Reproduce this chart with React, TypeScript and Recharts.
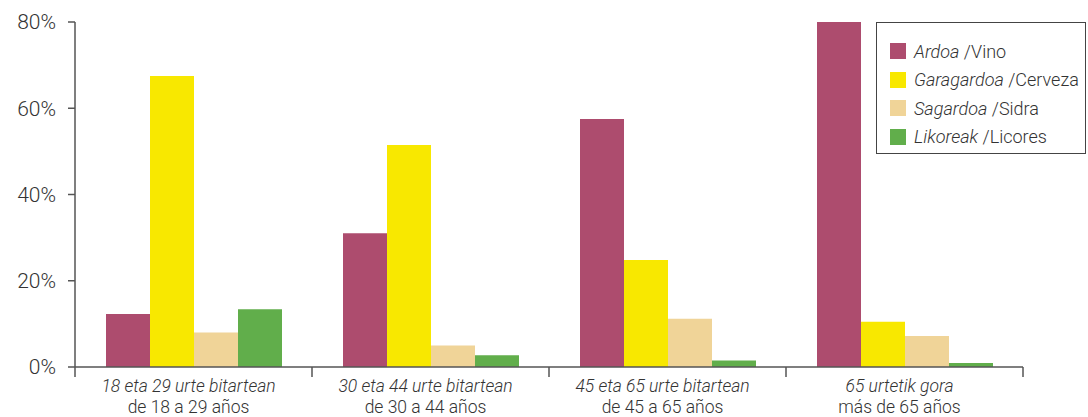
import React from "react";
import { BarChart, Bar, XAxis, YAxis, Legend } from "recharts";

// categories (Basque / Spanish)
const categoriesEu = ["18 eta 29 urte bitartean", "30 eta 44 urte bitartean", "45 eta 65 urte bitartean", "65 urtetik gora"];
const categoriesEs = ["de 18 a 29 años", "de 30 a 44 años", "de 45 a 65 años", "más de 65 años"];

// series values (%)
const vino = [12.3, 31, 57.5, 80];
const cerveza = [67.5, 51.5, 24.8, 10.5];
const sidra = [8, 5, 11.2, 7.2];
const licores = [13.4, 2.7, 1.5, 0.9];

const yTicks = [0, 20, 40, 60, 80];

const seriesEu = ["Ardoa", "Garagardoa", "Sagardoa", "Likoreak"];
const seriesEs = ["Vino", "Cerveza", "Sidra", "Licores"];
const seriesKeys = ["vino", "cerveza", "sidra", "licores"];
const colors = ["#ad4c6e", "#f8e800", "#f0d498", "#61ae4b"];

const data = categoriesEu.map((c, i) => ({
  cat: c,
  vino: vino[i],
  cerveza: cerveza[i],
  sidra: sidra[i],
  licores: licores[i],
}));

const W = 1088;
const H = 417;
const LEFT = 75;
const RIGHT = 65;
const BAND = (W - LEFT - RIGHT) / categoriesEu.length;
const FONT = "Roboto, sans-serif";
const TEXT = "#333";
const AXIS = "#555";

function CatTick(props: any) {
  const { x, y, index } = props;
  const last = index === categoriesEu.length - 1;
  return (
    <g>
      <line x1={x - BAND / 2} x2={x - BAND / 2} y1={y} y2={y + 10} stroke={AXIS} strokeWidth={1.5} />
      {last && <line x1={x + BAND / 2} x2={x + BAND / 2} y1={y} y2={y + 10} stroke={AXIS} strokeWidth={1.5} />}
      <text x={x - 5} y={y + 25} textAnchor="middle" fontFamily={FONT} fontWeight={300} fontStyle="italic" fontSize={17.5} fill={TEXT}>
        {categoriesEu[index]}
      </text>
      <text x={x - 5} y={y + 46} textAnchor="middle" fontFamily={FONT} fontWeight={300} fontSize={17.5} fill={TEXT}>
        {categoriesEs[index]}
      </text>
    </g>
  );
}

function LegendBox() {
  return (
    <div style={{ border: "1px solid #444", height: 132, boxSizing: "border-box", paddingTop: 14, fontFamily: FONT, fontWeight: 300, fontSize: 18, color: TEXT }}>
      {seriesKeys.map((k, i) => (
        <div key={k} style={{ display: "flex", alignItems: "center", height: 28.5, paddingLeft: 13 }}>
          <span style={{ display: "inline-block", width: 16, height: 16, background: colors[i], marginRight: 8 }} />
          <span><i>{seriesEu[i]}</i> /{seriesEs[i]}</span>
        </div>
      ))}
    </div>
  );
}

export default function App() {
  return (
    <div style={{ position: "fixed", left: 0, top: 0, width: W, height: H, background: "#fff" }}>
      <BarChart width={W} height={H} data={data} margin={{ top: 22, right: RIGHT, bottom: 0, left: 0 }} barGap={0} barCategoryGap={31}>
        <XAxis
          dataKey="cat"
          height={50}
          interval={0}
          tickSize={0}
          tickMargin={0}
          tickLine={false}
          axisLine={{ stroke: AXIS, strokeWidth: 1.5 }}
          tick={<CatTick />}
        />
        <YAxis
          width={LEFT}
          domain={[0, 80]}
          ticks={yTicks}
          interval={0}
          tickSize={7}
          tickMargin={12}
          tickFormatter={(v: number) => `${v}%`}
          axisLine={{ stroke: AXIS, strokeWidth: 1.5 }}
          tickLine={{ stroke: AXIS, strokeWidth: 1.5 }}
          tick={{ fontFamily: FONT, fontWeight: 300, fontSize: 21, fill: TEXT }}
        />
        <Legend
          layout="vertical"
          align="center"
          verticalAlign="middle"
          wrapperStyle={{ left: 876, top: 22, width: 210, height: 132 }}
          content={() => <LegendBox />}
        />
        {seriesKeys.map((k, i) => (
          <Bar key={k} dataKey={k} fill={colors[i]} isAnimationActive={false} />
        ))}
      </BarChart>
    </div>
  );
}
